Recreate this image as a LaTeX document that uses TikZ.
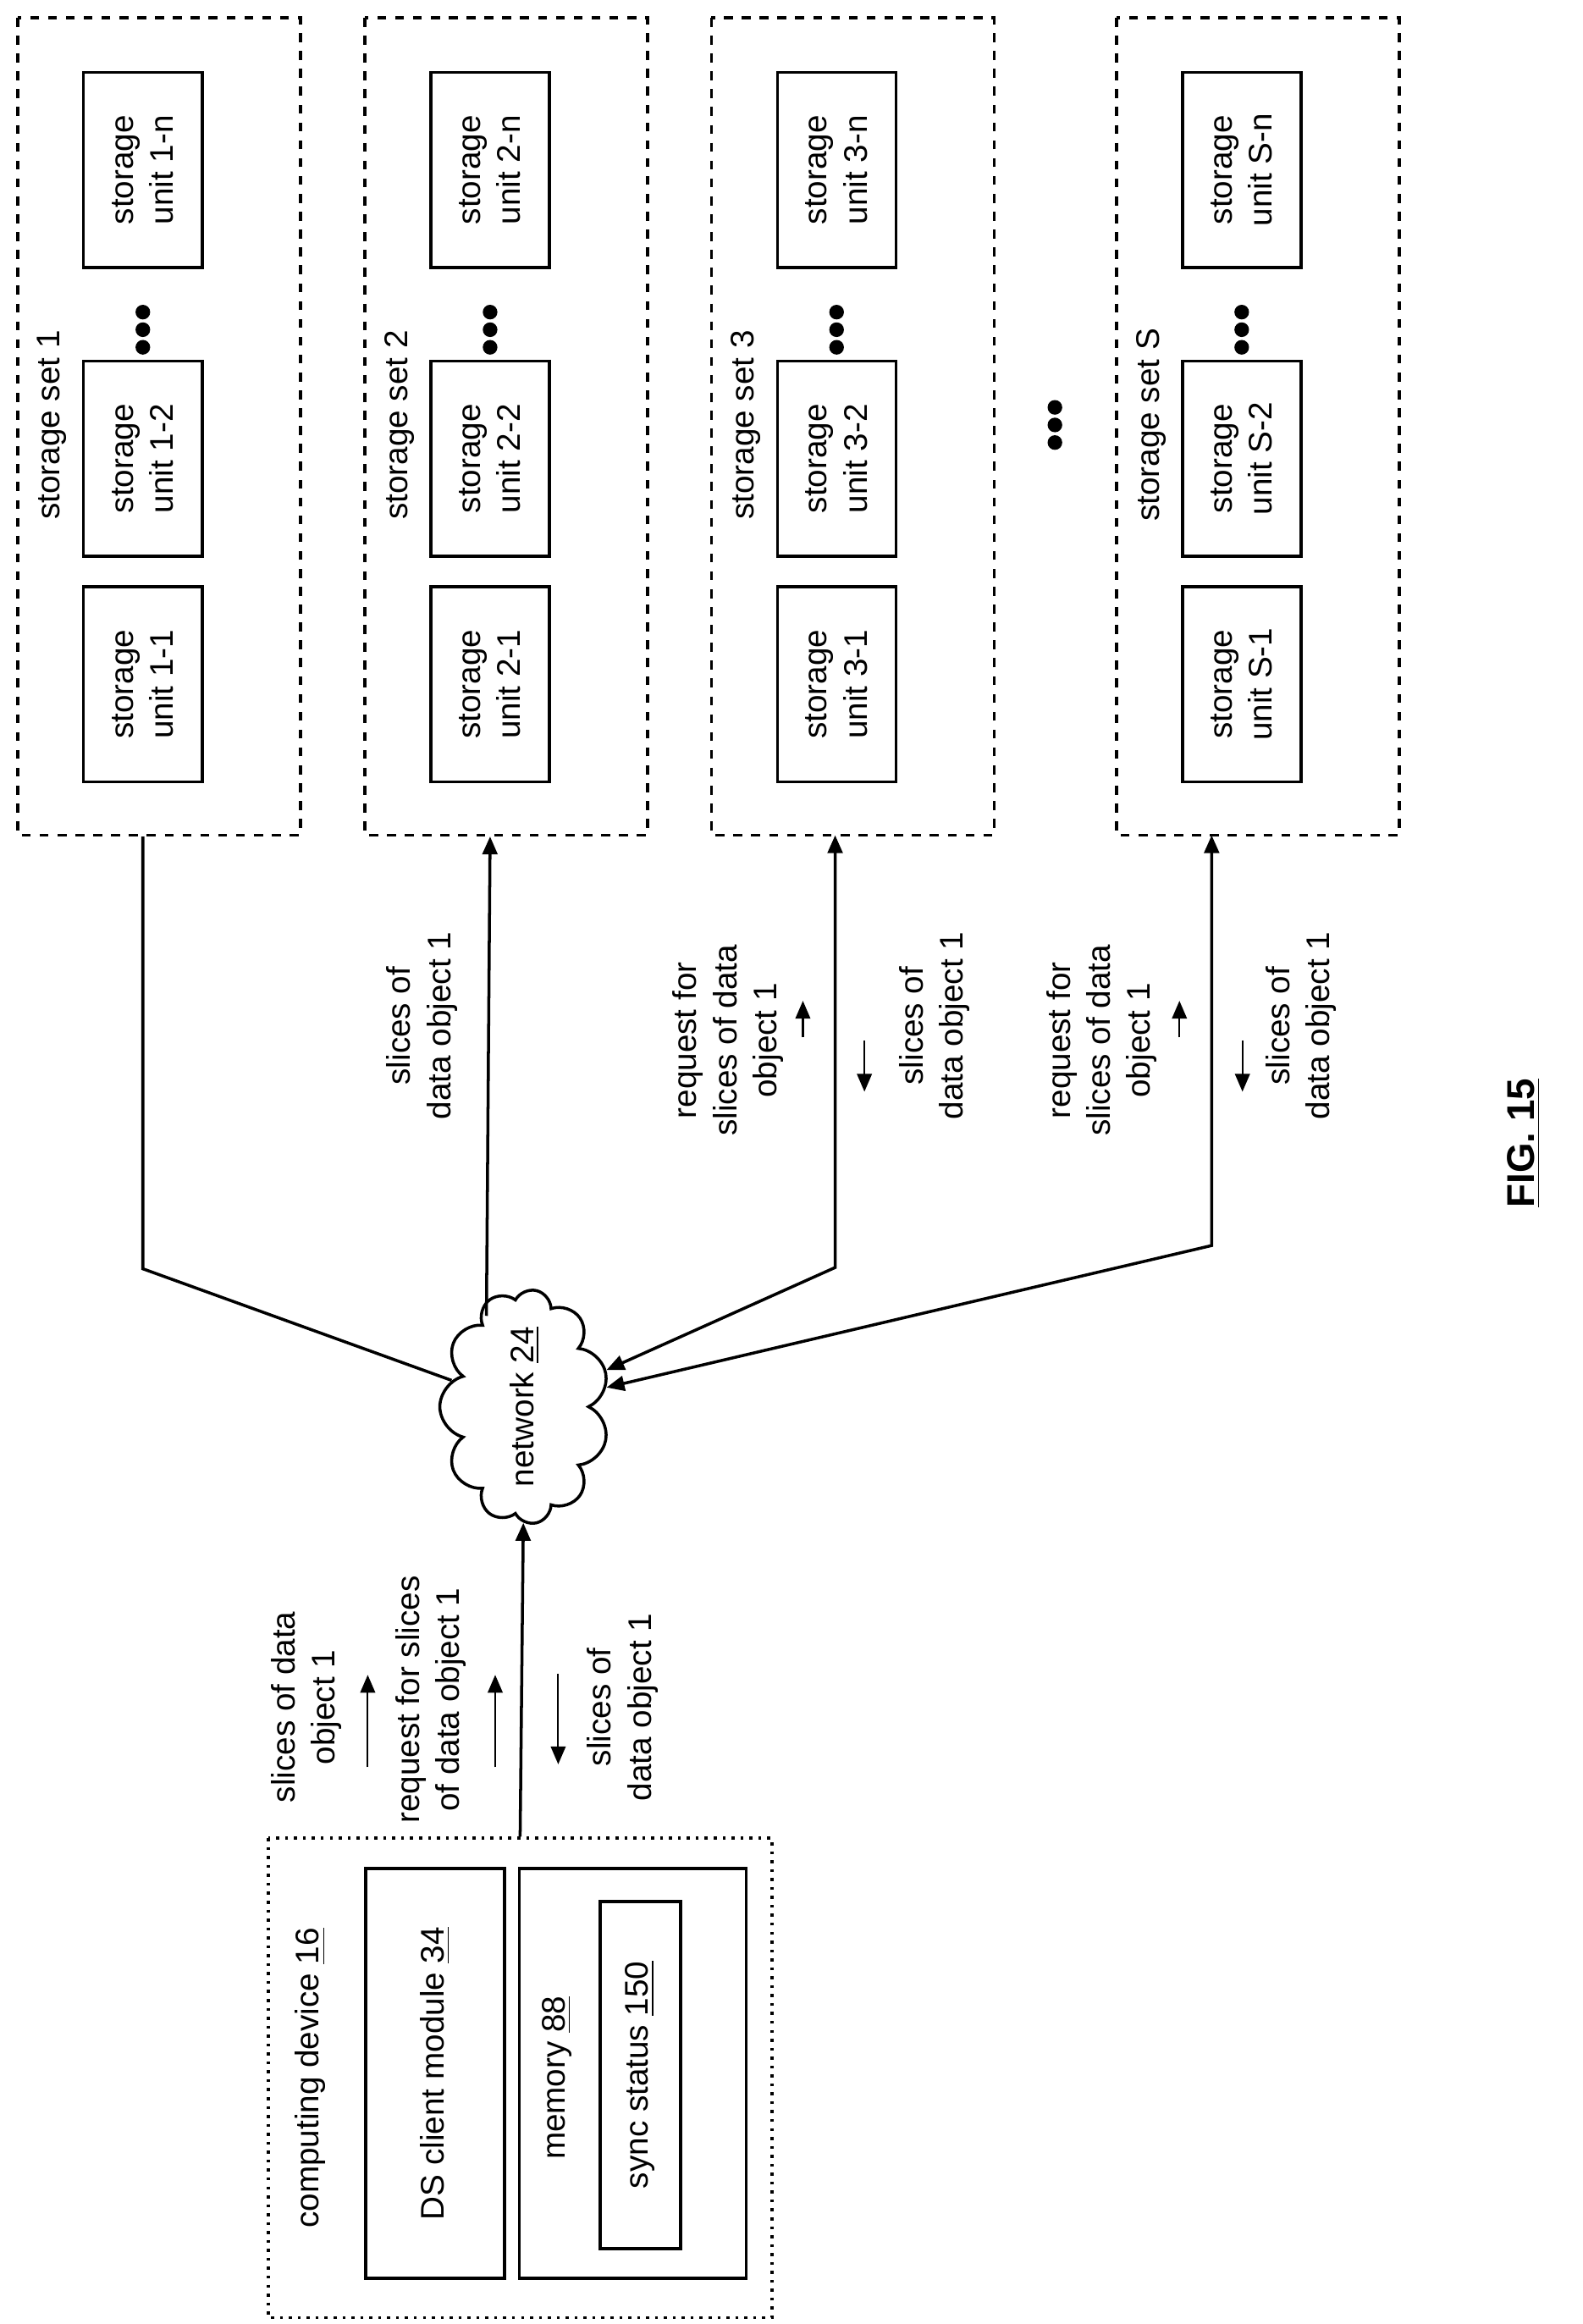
\documentclass[tikz,border=0pt]{standalone}
\usepackage{fontspec}
\setmainfont{Liberation Sans}
\usetikzlibrary{shapes.symbols,arrows.meta}
\begin{document}
\begin{tikzpicture}[x=0.0173cm,y=-0.0173cm,line width=1pt,
  >={Triangle[length=6pt,width=5pt]},
  txt/.style={rotate=90,font=\fontsize{11}{13.5}\selectfont,align=center,inner sep=0pt},
  unit/.style={txt,draw,minimum width=2.3cm,minimum height=1.4cm},
  set/.style={rotate=90,draw,dashed,minimum width=9.65cm,minimum height=3.34cm}]
\useasboundingbox (0,0) rectangle (1080,1586);
% storage sets
\foreach \i/\x/\n in {1/108.5/1,2/345.5/2,3/582/3,4/858.5/S}{
  \node[set] (set\i) at (\x,291) {};
  \node[txt] (lab\i) at (\x-73,290) {storage set \n};
  \node[unit] (u\i1) at (\x-11,467) {storage\\unit \n-1};
  \node[unit] (u\i2) at (\x-11,313) {storage\\unit \n-2};
  \node[unit] (u\i3) at (\x-11,116) {storage\\unit \n-n};
  \foreach \d in {-12,0,12} \fill (\x-11,225+\d) circle (5);
}
\foreach \d in {-12,0,12} \fill (720,290+\d) circle (5);
% network
\node[txt,draw,cloud,cloud puffs=11,cloud ignores aspect,minimum width=2.77cm,minimum height=2cm] (net) at (358,960) {network \underline{24}};
\coordinate (n2) at (332,898);
\draw (u11 |- set1.west) -- ++(0,295) -- (net);
\draw[->] (n2) -- (u21 |- set2.west);
\draw[<->] (net) -- (570,865) -- (570,570);
\draw[<->] (net) -- (827,850) -- (827,570);
% computing device
\node[rotate=90,draw,dotted,minimum width=5.66cm,minimum height=5.95cm] (cd) at (355,1418) {};
\node[txt] (cdlab) at (212,1418) {computing device \underline{16}};
\node[txt,draw,minimum width=4.84cm,minimum height=1.64cm] (ds) at (297,1415) {DS client module \underline{34}};
\node[rotate=90,draw,minimum width=4.84cm,minimum height=2.68cm] (mem) at (432,1415) {};
\node[txt] (memlab) at (380,1418) {memory \underline{88}};
\node[txt,draw,minimum width=4.1cm,minimum height=0.95cm] (sync) at (437,1416) {sync status \underline{150}};
\draw[->] (cd.east) -- (net);
% labels
\node[txt] (l1) at (209,1165) {slices of data\\object 1};
\node[txt] (l2) at (294,1160) {request for slices\\of data object 1};
\node[txt] (l3) at (425,1165) {slices of\\data object 1};
\draw[->,line width=0.6pt] (251,1206) -- (251,1143);
\draw[->,line width=0.6pt] (338,1206) -- (338,1143);
\draw[->,line width=0.6pt] (381,1142) -- (381,1204);
\node[txt] (l4) at (288,700) {slices of\\data object 1};
\node[txt] (l5) at (497,710) {request for\\slices of data\\object 1};
\node[txt] (l6) at (638,700) {slices of\\data object 1};
\draw[->,line width=0.6pt] (548,708) -- (548,683);
\draw[->,line width=0.6pt] (590,710) -- (590,745);
\node[txt] (l7) at (752,710) {request for\\slices of data\\object 1};
\node[txt] (l8) at (888,700) {slices of\\data object 1};
\draw[->,line width=0.6pt] (805,708) -- (805,683);
\draw[->,line width=0.6pt] (848,710) -- (848,745);
\node[txt,font=\fontsize{13}{15}\selectfont\bfseries] (fig) at (1040,780) {\underline{FIG. 15}};
\end{tikzpicture}
\end{document}
